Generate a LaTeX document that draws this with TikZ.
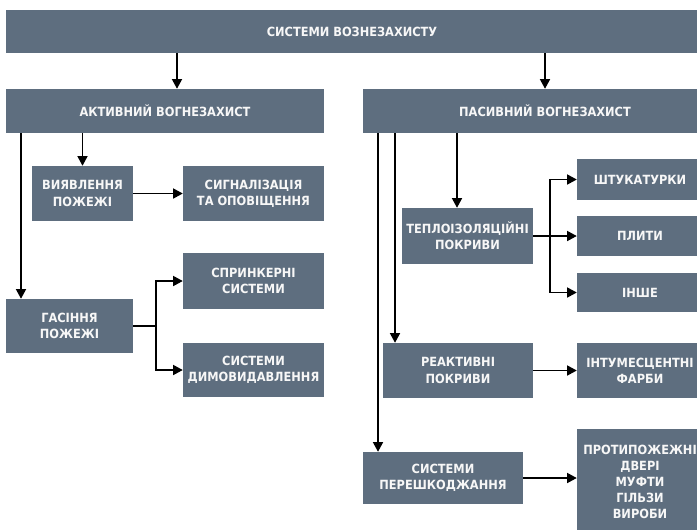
\documentclass[tikz,border=0pt]{standalone}
\usepackage{fontspec}
\newfontfamily\boxfont{DejaVu Sans Condensed}
\usepackage{tikz}
\usetikzlibrary{arrows.meta, positioning}

\definecolor{slate}{HTML}{5E6E7F}

\begin{document}
\begin{tikzpicture}[
  >={Triangle[length=2.9mm, width=3mm]},
  x=0.3mm, y=-0.3mm, % 1 unit = 1 px of the reference
  blk/.style={fill=slate, text=white!94!gray, align=center, inner sep=1pt,
    font=\boxfont\bfseries\fontsize{10.8}{13.8}\selectfont},
  sz/.style 2 args={minimum width=#1*0.3mm, minimum height=#2*0.3mm},
  arr/.style={->, line width=0.5mm, black}
]
  \useasboundingbox (0,0) rectangle (697,529);
  \clip (0,0) rectangle (697,529);

  % top level
  \node[blk, sz={692}{43}] (sys) at (352,31.5) {СИСТЕМИ ВОЗНЕЗАХИСТУ};
  \node[blk, sz={318}{44}] (akt) at (165,111) {АКТИВНИЙ ВОГНЕЗАХИСТ};
  \node[blk, sz={364}{44}] (pas) at (545,111) {ПАСИВНИЙ ВОГНЕЗАХИСТ};

  % active branch
  \node[blk, sz={101}{55}] (vyiav) at (82.5,193.5) {ВИЯВЛЕННЯ\\ПОЖЕЖІ};
  \node[blk, sz={141}{55}] (syhn)  at (253.5,193.5) {СИГНАЛІЗАЦІЯ\\ТА ОПОВІЩЕННЯ};
  \node[blk, sz={127}{54}] (hasin) at (69.5,326) {ГАСІННЯ\\ПОЖЕЖІ};
  \node[blk, sz={141}{56}] (sprynk) at (253.5,281) {СПРИНКЕРНІ\\СИСТЕМИ};
  \node[blk, sz={141}{54}] (dymo)  at (253.5,370) {СИСТЕМИ\\ДИМОВИДАВЛЕННЯ};

  % passive branch
  \node[blk, sz={131}{56}] (teplo) at (467.5,236) {ТЕПЛОІЗОЛЯЦІЙНІ\\ПОКРИВИ};
  \node[blk, sz={126}{41}] (shtuk) at (640,179.5) {ШТУКАТУРКИ};
  \node[blk, sz={126}{40}] (plyty) at (640,236) {ПЛИТИ};
  \node[blk, sz={126}{39}] (inshe) at (640,292.5) {ІНШЕ};
  \node[blk, sz={150}{55}] (reakt) at (458,370.5) {РЕАКТИВНІ\\ПОКРИВИ};
  \node[blk, sz={126}{55}] (intum) at (640,370.5) {ІНТУМЕСЦЕНТНІ\\ФАРБИ};
  \node[blk, sz={160}{52}] (pereshk) at (443,478) {СИСТЕМИ\\ПЕРЕШКОДЖАННЯ};
  \node[blk, sz={126}{106}] (protyp) at (640,482) {ПРОТИПОЖЕЖНІ\\ДВЕРІ\\МУФТИ\\ГІЛЬЗИ\\ВИРОБИ};

  % arrows from the top
  \draw[arr] (177,0 |- sys.south) -- (177,0 |- akt.north);
  \draw[arr] (sys.south -| pas.north) -- (pas.north);

  % active
  \draw[arr] (akt.south -| vyiav.north) -- (vyiav.north);
  \draw[arr] (21,0 |- akt.south) -- (21,0 |- hasin.north);
  \draw[arr] (vyiav.east) -- (syhn.west);
  \draw[arr] (hasin.east) -- (156,0 |- hasin.east) |- (sprynk.west);
  \draw[arr] (hasin.east) -- (156,0 |- hasin.east) |- (dymo.west);

  % passive
  \draw[arr] (378,0 |- pas.south) -- (378,0 |- pereshk.north);
  \draw[arr] (395,0 |- pas.south) -- (395,0 |- reakt.north);
  \draw[arr] (457,0 |- pas.south) -- (457,0 |- teplo.north);
  \foreach \t in {shtuk, plyty, inshe}
    \draw[arr] (teplo.east) -- (550,0 |- teplo.east) |- (\t.west);
  \draw[arr] (reakt.east) -- (intum.west);
  \draw[arr] (pereshk.east) -- (pereshk.east -| protyp.west);
\end{tikzpicture}
\end{document}
